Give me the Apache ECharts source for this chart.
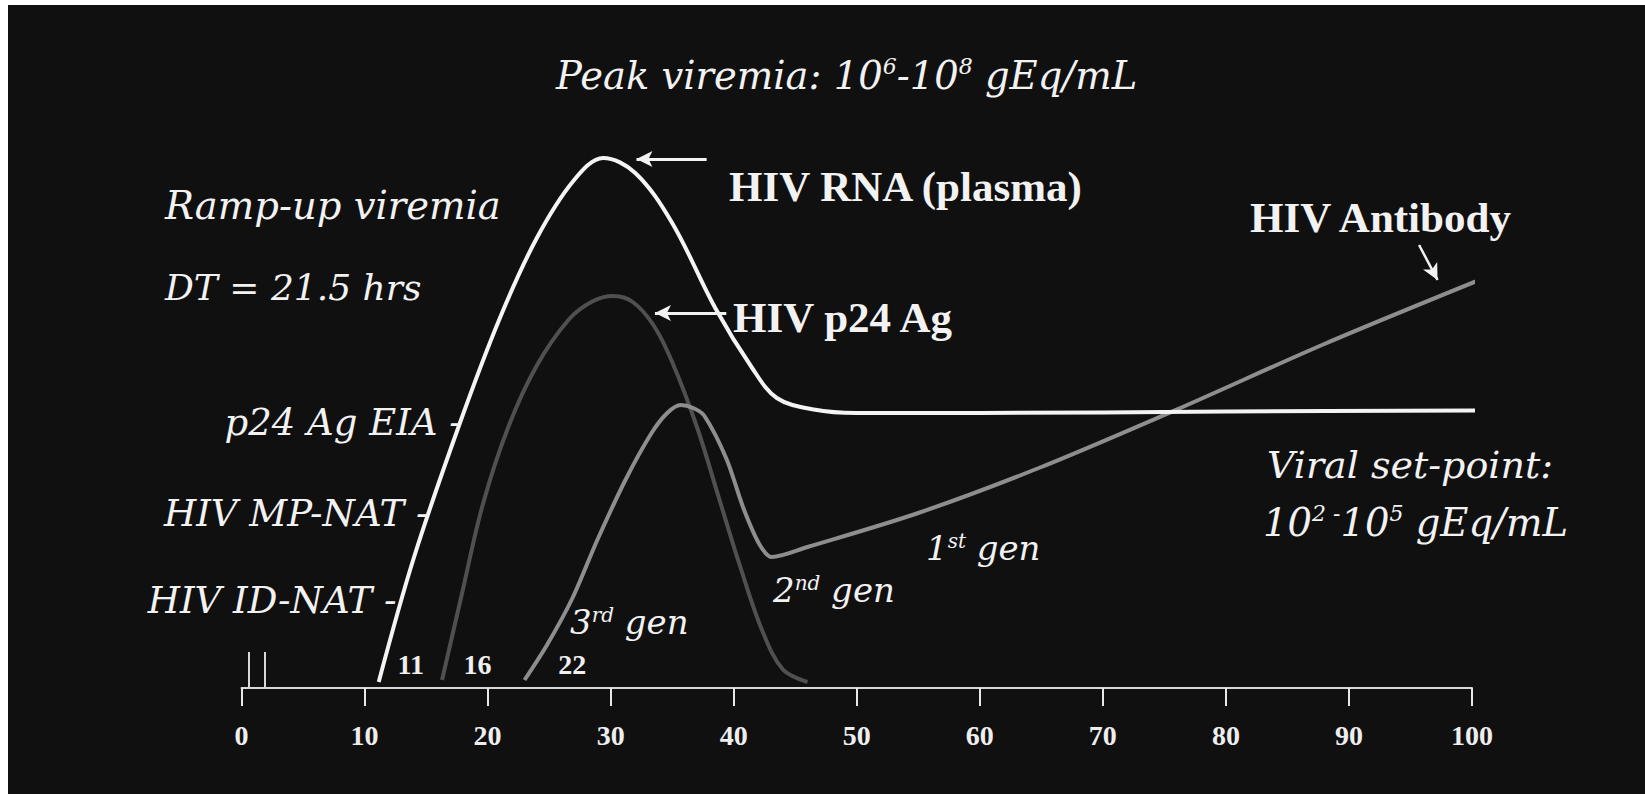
<!DOCTYPE html>
<html>
<head>
<meta charset="utf-8">
<title>HIV viremia and assay detection</title>
<script src="https://cdn.jsdelivr.net/npm/echarts@6/dist/echarts.min.js"></script>
<style>
  html, body { margin: 0; padding: 0; background: #fff; }
  #chart { width: 1645px; height: 794px; }
</style>
</head>
<body>
<div id="chart"></div>
<script>
// days after infection vs. relative marker level (arbitrary units)
const rnaCurve = [
  [11.15, 1.2], [14, 26], [17.75, 53], [21, 74], [24, 90], [27, 101.5],
  [29.4, 106], [32, 103], [35, 93], [38.5, 76], [41.5, 64], [43.5, 58],
  [46.5, 55.7], [50, 55], [60, 55], [80, 55.3], [101, 55.5]
];
const p24Curve = [
  [16.3, 1.6], [17.9, 18.7], [19.6, 36.6], [21.7, 52.3], [24, 64.5], [26.6, 73.7],
  [28.5, 77.3], [30.2, 78.4], [31.8, 77.2], [33.5, 72.5], [35, 65.2], [37, 52.3],
  [38.8, 38], [40.5, 24.5], [42.3, 11.6], [44, 3.7], [46, 1.2]
];
const antibodyCurve = [
  [23, 1.6], [24.85, 8.7], [26.9, 18], [28.9, 29.5], [31.2, 41.6], [33.3, 50.9],
  [34.6, 55], [35.7, 56.6], [36.7, 56], [37.6, 54.5], [39.4, 45.9], [40.8, 35.9],
  [42.1, 28.7], [43.1, 26.2], [46, 28.2], [55, 35], [65, 44.2], [76.2, 55.9],
  [88, 68.8], [101.5, 82.5]
];

// assay detection thresholds, marked where they meet the RNA curve
const assayNames = ['HIV ID-NAT', 'HIV MP-NAT', 'p24 Ag EIA'];
const assayDays = [12.6, 15.2, 17.9];
const assayLevels = [17.6, 35, 53.2];

// first day each generation of test turns positive
const startDays = [11, 16, 22];
const eclipseMarks = [0.6, 1.9];

// pointer arrows: [fromX, fromY, toX, toY]
const rnaArrow = [37.8, 105.8, 32.1, 105.8];
const p24Arrow = [39.4, 75, 33.6, 75];
const antibodyArrow = [95.7, 88.6, 97.2, 81.6];

const xMin = 0, xMax = 100, xStep = 10;

const txt = '#f2f2f2';
const italic = s => 'italic ' + s + 'px "DejaVu Serif"';
const bold = s => 'bold ' + s + 'px "Liberation Serif"';

function note(x, y, text, font, sup) {
  const style = { text: text, font: font, fill: txt, align: 'left', verticalAlign: 'middle' };
  if (sup) {
    style.rich = {
      m: { font: font, fill: txt },
      s: { font: sup, fill: txt, verticalAlign: 'top' }
    };
  }
  return { type: 'text', x: x, y: y, silent: true, style: style };
}

function arrow(a, width) {
  return [
    { coord: [a[0], a[1]], symbol: 'none' },
    { coord: [a[2], a[3]], symbol: 'arrow', symbolSize: [12, 16], lineStyle: { color: '#f2f2f2', width: width } }
  ];
}

const chart = echarts.init(document.getElementById('chart'), null, { renderer: 'svg' });

const dayShift = [34, 39, 60];

chart.setOption({
  animation: false,
  backgroundColor: '#101010',
  grid: { left: 241.5, right: 173, top: 88, bottom: 106 },
  xAxis: {
    type: 'value', min: xMin, max: xMax, interval: xStep,
    splitLine: { show: false },
    axisLine: { lineStyle: { color: '#d8d8d8', width: 2 } },
    axisTick: { length: 18, lineStyle: { color: '#e8e8e8', width: 2 } },
    axisLabel: { color: '#eeeeee', fontFamily: 'Liberation Serif', fontWeight: 'bold', fontSize: 28, margin: 33 }
  },
  yAxis: { type: 'value', min: 0, max: 120, show: false },
  series: [
    {
      name: 'HIV RNA', type: 'line', data: rnaCurve, smooth: 0.35, symbol: 'none', clip: false, z: 4,
      lineStyle: { color: '#f4f4f4', width: 4 },
      markLine: {
        silent: true, label: { show: false }, lineStyle: { color: '#f2f2f2', width: 3, type: 'solid' },
        data: [arrow(rnaArrow, 3)]
      }
    },
    {
      name: 'HIV p24 Ag', type: 'line', data: p24Curve, smooth: 0.35, symbol: 'none', clip: false, z: 2,
      lineStyle: { color: '#505050', width: 4 },
      markLine: {
        silent: true, label: { show: false }, lineStyle: { color: '#f2f2f2', width: 3, type: 'solid' },
        data: [arrow(p24Arrow, 3)]
      }
    },
    {
      name: 'HIV Antibody', type: 'line', data: antibodyCurve, smooth: 0.3, symbol: 'none', clip: false, z: 3,
      lineStyle: { color: '#8e8e8e', width: 4 },
      markLine: {
        silent: true, label: { show: false }, lineStyle: { color: '#f2f2f2', width: 2.5, type: 'solid' },
        data: [arrow(antibodyArrow, 2.5)].concat(eclipseMarks.map(d => [
          { coord: [d, 0], symbol: 'none', lineStyle: { color: '#d8d8d8', width: 2 } },
          { coord: [d, 7.2], symbol: 'none' }
        ]))
      }
    },
    {
      name: 'assays', type: 'scatter', symbolSize: 0, silent: true, z: 5,
      itemStyle: { opacity: 1 },
      data: assayDays.map((d, i) => [d, assayLevels[i]]),
      label: {
        show: true, position: 'left', distance: 0, opacity: 1,
        color: txt, fontFamily: 'DejaVu Serif', fontStyle: 'italic', fontSize: 37,
        formatter: p => assayNames[p.dataIndex] + ' -'
      }
    },
    {
      name: 'start days', type: 'scatter', symbolSize: 0, silent: true, z: 5,
      itemStyle: { opacity: 1 },
      data: startDays.map((d, i) => ({
        value: [d, 0],
        label: { offset: [dayShift[i], -24] }
      })),
      label: {
        show: true, position: 'inside', opacity: 1,
        color: '#f0f0f0', fontFamily: 'Liberation Serif', fontWeight: 'bold', fontSize: 28,
        formatter: p => String(p.value[0])
      }
    }
  ],
  graphic: [
    { type: 'rect', silent: true, shape: { x: 0, y: 0, width: 8, height: 794 }, style: { fill: '#ffffff' } },
    { type: 'rect', silent: true, shape: { x: 0, y: 0, width: 1645, height: 5 }, style: { fill: '#ffffff' } },
    note(556, 75, '{m|Peak viremia: 10}{s|6}{m|-10}{s|8}{m| gEq/mL}', italic(38.5), italic(22)),
    note(165, 205, 'Ramp-up viremia', italic(38.5)),
    note(165, 287, 'DT = 21.5 hrs', italic(36)),
    note(729, 186, 'HIV RNA (plasma)', bold(43)),
    note(733, 317, 'HIV p24 Ag', bold(43)),
    note(1250, 217, 'HIV Antibody', bold(43)),
    note(1267, 465, 'Viral set-point:', italic(38)),
    note(1263, 522, '{m|10}{s|2}{s| -}{m|10}{s|5}{m| gEq/mL}', italic(38.5), italic(22)),
    note(926, 548, '{m|1}{s|st}{m| gen}', italic(34), italic(20)),
    note(773, 590, '{m|2}{s|nd}{m| gen}', italic(34), italic(20)),
    note(570, 622, '{m|3}{s|rd}{m| gen}', italic(34), italic(20))
  ]
});
</script>
</body>
</html>
